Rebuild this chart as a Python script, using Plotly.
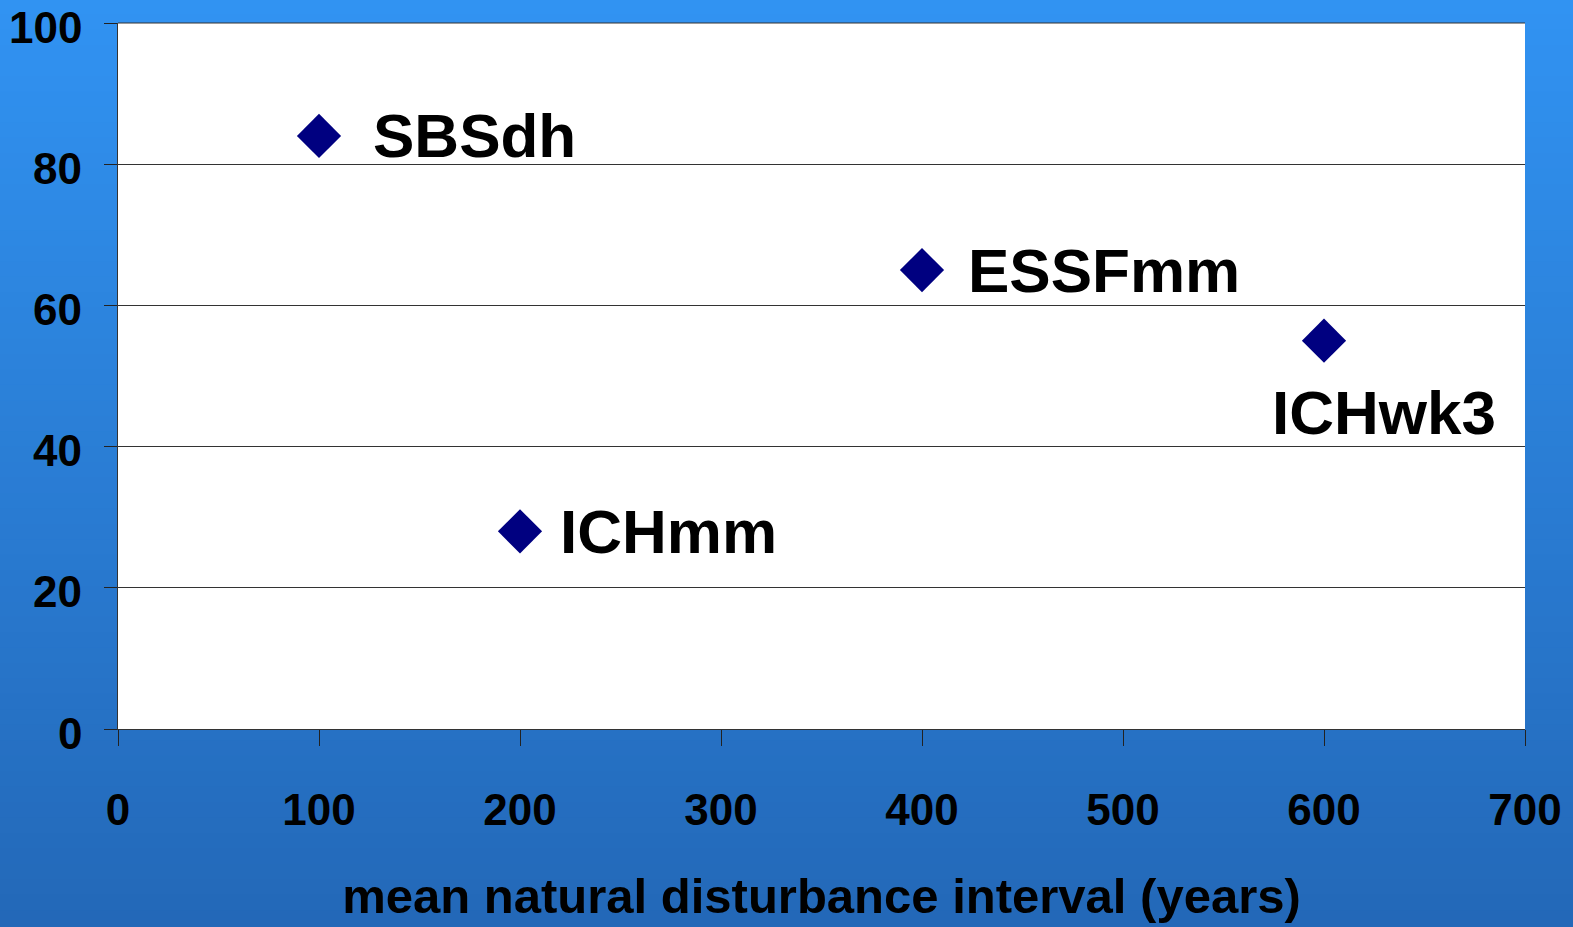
import plotly.graph_objects as go

# ---- data ----
zones = ["SBSdh", "ICHmm", "ESSFmm", "ICHwk3"]
interval_years = [100, 200, 400, 600]
values = [84, 28, 65, 55]
x_ticks = [0, 100, 200, 300, 400, 500, 600, 700]
y_ticks = [0, 20, 40, 60, 80, 100]
x_title = "mean natural disturbance interval (years)"

# label placement (pixel offsets from the point)
label_xshift = [52, 38, 44, 60]
label_yshift = [0, 0, 0, -72]
label_anchor = ["left", "left", "left", "center"]

W, H = 1573, 927
ML, MR, MT, MB = 118, 48, 23, 198
PH = H - MT - MB
FONT = "Liberation Sans, Arial, sans-serif"

fig = go.Figure()
fig.add_trace(go.Scatter(
    x=interval_years, y=values, mode="markers",
    marker=dict(symbol="diamond", size=34, color="#000080",
                line=dict(width=0)),
    showlegend=False, hoverinfo="x+y",
))

# gradient background (paper)
shapes = []
top = (0x31, 0x93, 0xF2)
bot = (0x23, 0x68, 0xB8)
n = 60
for i in range(n):
    t = (i + 0.5) / n
    c = tuple(round(top[k] + (bot[k] - top[k]) * t) for k in range(3))
    shapes.append(dict(type="rect", xref="paper", yref="paper", layer="below",
                       x0=-0.2, x1=1.2,
                       y1=1 + MT / PH - (i / n) * (H / PH) + 0.002,
                       y0=1 + MT / PH - ((i + 1) / n) * (H / PH) - 0.002,
                       fillcolor="rgb(%d,%d,%d)" % c, line=dict(width=0)))
# white plot area
shapes.append(dict(type="rect", xref="paper", yref="paper", layer="below",
                   x0=0, x1=1, y0=0, y1=1, fillcolor="white", line=dict(width=0)))
# top gridline (at y = 100)
shapes.append(dict(type="line", xref="paper", yref="paper", layer="above",
                   x0=0, x1=1, y0=1, y1=1, line=dict(color="#333333", width=1)))

annotations = []
for z, xv, yv, xs, ys, anc in zip(zones, interval_years, values,
                                  label_xshift, label_yshift, label_anchor):
    annotations.append(dict(x=xv, y=yv, xref="x", yref="y", text=z,
                            showarrow=False, xanchor=anc, yanchor="middle",
                            xshift=xs, yshift=ys,
                            font=dict(family=FONT, size=62, color="black",
                                      weight="bold")))
# y tick labels (placed on the y axis scale)
for v in y_ticks:
    annotations.append(dict(x=0, y=v, xref="paper", yref="y", text=str(v),
                            showarrow=False, xanchor="right", yanchor="middle",
                            xshift=-34, yshift=-4,
                            font=dict(family=FONT, size=44, color="black",
                                      weight="bold")))

fig.update_layout(
    width=W, height=H,
    margin=dict(l=ML, r=MR, t=MT, b=MB, pad=0, autoexpand=False),
    paper_bgcolor="#2a7dd6",
    plot_bgcolor="white",
    shapes=shapes,
    annotations=annotations,
    font=dict(family=FONT, color="black", weight="bold"),
    xaxis=dict(range=[0, 700], tickvals=x_ticks, ticktext=[str(v) for v in x_ticks],
               showgrid=False, zeroline=False, showline=True, linecolor="#333333",
               linewidth=1, ticks="outside", ticklen=16, tickcolor="#222222",
               tickwidth=1, ticklabelstandoff=26, ticklabeloverflow="allow",
               automargin=False,
               tickfont=dict(family=FONT, size=44, color="black", weight="bold"),
               title=dict(text=x_title, standoff=45,
                          font=dict(family=FONT, size=49, color="black",
                                    weight="bold")),
               fixedrange=True),
    yaxis=dict(range=[0, 100], tickvals=y_ticks, showticklabels=False,
               showgrid=True, gridcolor="#333333", gridwidth=1, zeroline=False,
               showline=True, linecolor="#333333", linewidth=1,
               ticks="outside", ticklen=13, tickcolor="#222222", tickwidth=1,
               automargin=False,
               fixedrange=True),
)

fig.write_html("out.html", config={"displayModeBar": False})
